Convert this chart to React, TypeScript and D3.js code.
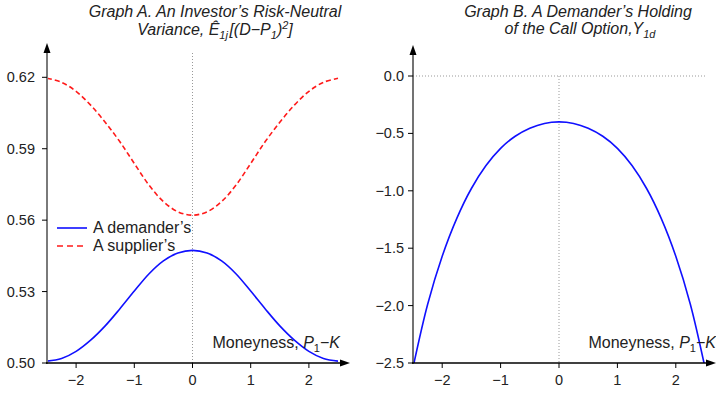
import React, { useEffect, useRef } from 'react';
import * as d3 from 'd3';

// Moneyness grid shared by every series
const moneyness = [-2.5, -2.25, -2, -1.75, -1.5, -1.25, -1, -0.75, -0.5, -0.25, 0, 0.25, 0.5, 0.75, 1, 1.25, 1.5, 1.75, 2, 2.25, 2.5];

// Graph A: risk-neutral variance
const demanderVariance = [0.5008, 0.5019, 0.5049, 0.5096, 0.5156, 0.5227, 0.5302, 0.5374, 0.5429, 0.5462, 0.5473, 0.5462, 0.5429, 0.5374, 0.5302, 0.5227, 0.5156, 0.5096, 0.5049, 0.5019, 0.5008];
const supplierVariance = [0.6196, 0.6179, 0.6141, 0.6083, 0.6011, 0.5930, 0.5838, 0.5748, 0.5678, 0.5635, 0.5621, 0.5635, 0.5678, 0.5748, 0.5838, 0.5930, 0.6011, 0.6083, 0.6141, 0.6179, 0.6196];

// Graph B: demander's holding of the call option
const demanderHolding = [-2.54, -1.99, -1.57, -1.24, -0.98, -0.78, -0.63, -0.525, -0.455, -0.413, -0.4, -0.413, -0.455, -0.525, -0.63, -0.78, -0.98, -1.24, -1.57, -1.99, -2.54];

const xTicks = [-2, -1, 0, 1, 2];
const yTicksA = [0.5, 0.53, 0.56, 0.59, 0.62];
const yTicksB = [-2.5, -2.0, -1.5, -1.0, -0.5, 0.0];

const FONT = '"Liberation Sans", Arial, Helvetica, sans-serif';

const App = () => {
    const svgRef = useRef<SVGSVGElement>(null);

    useEffect(() => {
        const svg = d3.select(svgRef.current);
        svg.selectAll('*').remove();
        svg.style('font-family', FONT);

        const defs = svg.append('defs');
        defs.append('clipPath').attr('id', 'clipB')
            .append('rect').attr('x', 413).attr('y', 40).attr('width', 300).attr('height', 323);

        const arrowUp = (g: any, x: number, y: number) => {
            g.append('path')
                .attr('d', `M${x},${y} L${x - 3.5},${y + 10} L${x + 3.5},${y + 10} Z`)
                .attr('fill', '#000');
        };
        const arrowRight = (g: any, x: number, y: number) => {
            g.append('path')
                .attr('d', `M${x},${y} L${x - 10},${y - 3.5} L${x - 10},${y + 3.5} Z`)
                .attr('fill', '#000');
        };

        const moneynessLabel = (g: any, xEnd: number, y: number) => {
            const t = g.append('text')
                .attr('x', xEnd).attr('y', y)
                .attr('text-anchor', 'end')
                .style('font-size', '16px')
                .style('fill', '#222');
            t.append('tspan').text('Moneyness, ');
            t.append('tspan').style('font-style', 'italic').text('P');
            t.append('tspan').attr('dy', 4).style('font-size', '11px').text('1');
            t.append('tspan').attr('dy', -4).text('\u2212');
            t.append('tspan').style('font-style', 'italic').text('K');
        };

        // ---------- Graph A ----------
        const xA = d3.scaleLinear().domain([-2.5, 2.5]).range([47, 338]);
        const yA = d3.scaleLinear().domain([0.5, 0.62]).range([363, 77.3]);
        const gA = svg.append('g');

        // dotted guide at zero
        gA.append('line')
            .attr('x1', xA(0)).attr('x2', xA(0))
            .attr('y1', 53).attr('y2', 363)
            .style('stroke', '#999').style('stroke-width', 1).style('stroke-dasharray', '1,2');

        const lineA = (vals: number[]) => d3.line<number>()
            .x((d, i) => xA(moneyness[i]))
            .y(d => yA(d))
            .curve(d3.curveCatmullRom)(vals);

        gA.append('path').attr('d', lineA(supplierVariance))
            .attr('fill', 'none').style('stroke', '#ff1a1a').style('stroke-width', 1.6)
            .style('stroke-dasharray', '5,3');
        gA.append('path').attr('d', lineA(demanderVariance))
            .attr('fill', 'none').style('stroke', '#1010ff').style('stroke-width', 1.6);

        // axes
        gA.append('line').attr('x1', 47).attr('x2', 47).attr('y1', 50).attr('y2', 364)
            .style('stroke', '#7a7a7a').style('stroke-width', 2);
        arrowUp(gA, 47, 43);
        gA.append('line').attr('x1', 46).attr('x2', 342).attr('y1', 363).attr('y2', 363)
            .style('stroke', '#000').style('stroke-width', 1.3);
        arrowRight(gA, 350, 363);

        gA.selectAll('.ytA').data(yTicksA).enter().append('line')
            .attr('x1', 42).attr('x2', 47).attr('y1', d => yA(d)).attr('y2', d => yA(d))
            .style('stroke', '#000');
        gA.selectAll('.ylA').data(yTicksA).enter().append('text')
            .attr('x', 35).attr('y', d => yA(d)).attr('dy', '0.35em')
            .attr('text-anchor', 'end').style('font-size', '14.5px').style('fill', '#222')
            .text(d => d3.format('.2f')(d));

        gA.selectAll('.xtA').data(xTicks).enter().append('line')
            .attr('x1', d => xA(d)).attr('x2', d => xA(d)).attr('y1', 363).attr('y2', 368)
            .style('stroke', '#000');
        gA.selectAll('.xlA').data(xTicks).enter().append('text')
            .attr('x', d => xA(d)).attr('y', 385)
            .attr('text-anchor', 'middle').style('font-size', '14.5px').style('fill', '#222')
            .text(d => d3.format('d')(d));

        moneynessLabel(gA, 340, 348);

        // legend
        const legend = gA.append('g');
        legend.append('line').attr('x1', 57).attr('x2', 87).attr('y1', 228).attr('y2', 228)
            .style('stroke', '#1010ff').style('stroke-width', 1.6);
        legend.append('text').attr('x', 93).attr('y', 233).style('font-size', '16px').style('fill', '#222')
            .text('A demander\u2019s');
        legend.append('line').attr('x1', 57).attr('x2', 87).attr('y1', 246).attr('y2', 246)
            .style('stroke', '#ff1a1a').style('stroke-width', 1.6).style('stroke-dasharray', '6,4');
        legend.append('text').attr('x', 93).attr('y', 251).style('font-size', '16px').style('fill', '#222')
            .text('A supplier\u2019s');

        // title
        const tA1 = gA.append('text').attr('x', 215).attr('y', 17).attr('text-anchor', 'middle')
            .style('font-size', '16px').style('font-style', 'italic').style('fill', '#222');
        tA1.text('Graph A. An Investor\u2019s Risk-Neutral');
        const tA2 = gA.append('text').attr('x', 215).attr('y', 35).attr('text-anchor', 'middle')
            .style('font-size', '16px').style('font-style', 'italic').style('fill', '#222');
        tA2.append('tspan').text('Variance, \u00CA');
        tA2.append('tspan').attr('dy', 4).style('font-size', '11px').text('1j');
        tA2.append('tspan').attr('dy', -4).attr('dx', 1.5).text('[(D\u2212P');
        tA2.append('tspan').attr('dy', 4).style('font-size', '11px').text('1');
        tA2.append('tspan').attr('dy', -4).text(')');
        tA2.append('tspan').attr('dy', -6).style('font-size', '11px').text('2');
        tA2.append('tspan').attr('dy', 6).text(']');

        // ---------- Graph B ----------
        const xB = d3.scaleLinear().domain([-2.5, 2.5]).range([413, 705]);
        const yB = d3.scaleLinear().domain([-2.5, 0]).range([363, 76]);
        const gB = svg.append('g');

        gB.append('line')
            .attr('x1', 413).attr('x2', 707).attr('y1', yB(0)).attr('y2', yB(0))
            .style('stroke', '#999').style('stroke-width', 1).style('stroke-dasharray', '1,2');
        gB.append('line')
            .attr('x1', xB(0)).attr('x2', xB(0)).attr('y1', yB(0)).attr('y2', 363)
            .style('stroke', '#999').style('stroke-width', 1).style('stroke-dasharray', '1,2');

        const lineB = d3.line<number>()
            .x((d, i) => xB(moneyness[i]))
            .y(d => yB(d))
            .curve(d3.curveCatmullRom);
        gB.append('path').attr('d', lineB(demanderHolding))
            .attr('clip-path', 'url(#clipB)')
            .attr('fill', 'none').style('stroke', '#1010ff').style('stroke-width', 1.6);

        gB.append('line').attr('x1', 413).attr('x2', 413).attr('y1', 50).attr('y2', 364)
            .style('stroke', '#444').style('stroke-width', 1.5);
        arrowUp(gB, 413, 45);
        gB.append('line').attr('x1', 412).attr('x2', 708).attr('y1', 363).attr('y2', 363)
            .style('stroke', '#000').style('stroke-width', 1.3);
        arrowRight(gB, 716, 363);

        gB.selectAll('.ytB').data(yTicksB).enter().append('line')
            .attr('x1', 408).attr('x2', 413).attr('y1', d => yB(d)).attr('y2', d => yB(d))
            .style('stroke', '#000');
        gB.selectAll('.ylB').data(yTicksB).enter().append('text')
            .attr('x', 404).attr('y', d => yB(d)).attr('dy', '0.35em')
            .attr('text-anchor', 'end').style('font-size', '14.5px').style('fill', '#222')
            .text(d => d3.format('.1f')(d));

        gB.selectAll('.xtB').data(xTicks).enter().append('line')
            .attr('x1', d => xB(d)).attr('x2', d => xB(d)).attr('y1', 363).attr('y2', 368)
            .style('stroke', '#000');
        gB.selectAll('.xlB').data(xTicks).enter().append('text')
            .attr('x', d => xB(d)).attr('y', 385)
            .attr('text-anchor', 'middle').style('font-size', '14.5px').style('fill', '#222')
            .text(d => d3.format('d')(d));

        moneynessLabel(gB, 716, 348);

        const tB1 = gB.append('text').attr('x', 578).attr('y', 17).attr('text-anchor', 'middle')
            .style('font-size', '16px').style('font-style', 'italic').style('fill', '#222');
        tB1.text('Graph B. A Demander\u2019s Holding');
        const tB2 = gB.append('text').attr('x', 580).attr('y', 34).attr('text-anchor', 'middle')
            .style('font-size', '16px').style('font-style', 'italic').style('fill', '#222');
        tB2.append('tspan').text('of the Call Option,Y');
        tB2.append('tspan').attr('dy', 4).style('font-size', '11px').text('1d');
    }, []);

    return (
        <svg ref={svgRef} width={716} height={394}
            style={{ position: 'absolute', left: 0, top: 0, background: '#fff' }} />
    );
};

export default App;
